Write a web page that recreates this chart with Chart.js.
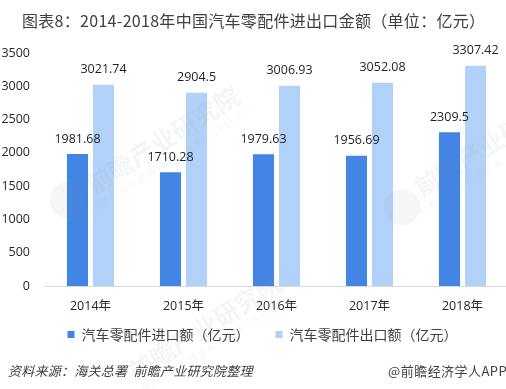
<!DOCTYPE html>
<html><head><meta charset="utf-8">
<style>html,body{margin:0;padding:0;background:#fff;overflow:hidden;width:506px;height:389px}
#w{position:absolute;left:0;top:0;width:516px;height:389px}</style>
<script src="https://cdn.jsdelivr.net/npm/chart.js@4"></script>
</head><body><div id="w"><canvas id="c" width="516" height="389"></canvas></div>
<script>
const categories=['2014年','2015年','2016年','2017年','2018年'];
const importValues=[1981.68,1710.28,1979.63,1956.69,2309.5];
const exportValues=[3021.74,2904.5,3006.93,3052.08,3307.42];
const importLabels=['1981.68','1710.28','1979.63','1956.69','2309.5'];
const exportLabels=['3021.74','2904.5','3006.93','3052.08','3307.42'];
const seriesNames=['汽车零配件进口额（亿元）','汽车零配件出口额（亿元）'];
const titleText='图表8：2014-2018年中国汽车零配件进出口金额（单位：亿元）';
const sourceText='资料来源：海关总署  前瞻产业研究院整理';
const brandText='@前瞻经济学人APP';
const watermarkText='前瞻产业研究院';
const watermarkSub='中国产业咨询领导者（股票：839599）';
const FF='"Open Sans","Noto Sans CJK SC",sans-serif';
const CJK='"Noto Sans CJK SC",sans-serif';
const ANG=-Math.atan2(94,149);
const extras={id:'extras',
 beforeDraw(ch){
  if(!ch.$shifted){ch.legend.left+=8;ch.legend.right+=8;ch.legend.top-=15.5;ch.legend.bottom-=15.5;ch.$shifted=true;}
 },
 afterDatasetsDraw(ch){
  const x=ch.ctx;
  x.save();
  x.textAlign='center';x.textBaseline='middle';
  [[163,140],[491,143],[205,327]].forEach(p=>{
    x.save();x.translate(p[0],p[1]);x.rotate(ANG);
    x.fillStyle='rgba(135,145,165,0.09)';x.font='bold 25px '+CJK;x.fillText(watermarkText,0,0);
    x.fillStyle='rgba(135,145,165,0.07)';x.font='9px '+CJK;x.letterSpacing='2px';x.fillText(watermarkSub,0,21);x.letterSpacing='0px';
    x.restore();});
  x.fillStyle='rgba(135,145,165,0.08)';
  [[68,200],[402,207]].forEach(p=>{x.beginPath();x.arc(p[0],p[1],18,0,Math.PI*2);x.fill();});
  x.restore();
  x.save();
  x.fillStyle='#1f1f1f';x.font='12.5px '+FF;x.textAlign='center';x.textBaseline='middle';
  [importLabels,exportLabels].forEach((l,d)=>{ch.getDatasetMeta(d).data.forEach((b,i)=>{x.fillText(l[i],b.x,b.y-15);});});
  x.fillStyle='#404040';x.textAlign='left';
  x.font='16px '+CJK;x.letterSpacing='0.3px';x.fillText(titleText,22,21);
  x.font='italic 13px '+CJK;x.letterSpacing='0.25px';
  x.fillText(sourceText,8,371);
  x.font='13px '+CJK;x.letterSpacing='0.45px';
  x.fillText(brandText,388,371);
  x.letterSpacing='0px';
  x.restore();
 }};
new Chart(document.getElementById('c'),{
 type:'bar',
 data:{labels:categories,datasets:[
  {label:seriesNames[0],data:importValues,backgroundColor:'#4285E4',categoryPercentage:0.56,barPercentage:0.81},
  {label:seriesNames[1],data:exportValues,backgroundColor:'#B2D1F8',categoryPercentage:0.56,barPercentage:0.81}]},
 plugins:[extras],
 options:{responsive:false,animation:false,devicePixelRatio:1,
  layout:{padding:{left:0,right:7,top:53,bottom:22}},
  plugins:{
   title:{display:false},
   legend:{position:'bottom',labels:{boxWidth:7,boxHeight:7,color:'#404040',font:{family:CJK,size:14},padding:26}},
   tooltip:{enabled:false}},
  scales:{
   x:{grid:{display:false,drawTicks:false},border:{color:'#D9D9D9',width:1},afterFit(s){s.height=31;},ticks:{color:'#262626',font:{family:FF,size:12.5},padding:13,maxRotation:0}},
   y:{min:0,max:3500,grid:{display:false,drawTicks:false},border:{display:false},
      afterFit(s){s.width=44;},
      ticks:{stepSize:500,color:'#262626',font:{family:FF,size:12.5},padding:14,callback(v){return String(v);}}}}
 }});
</script></body></html>
